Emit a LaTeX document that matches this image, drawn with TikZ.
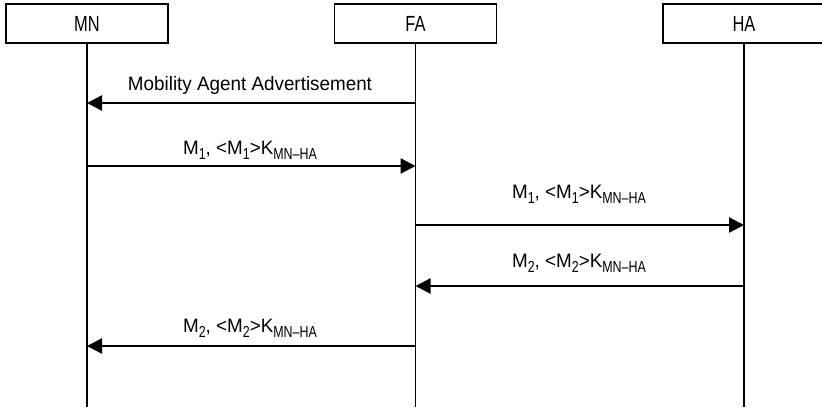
\documentclass[tikz,border=0pt]{standalone}
\usepackage{fontspec}
\setmainfont{Liberation Sans}[FakeStretch=0.97]
\newfontfamily\condfont{Liberation Sans}[FakeStretch=0.78,Ligatures=TeX]
\newfontfamily\boxfont{Liberation Sans}[FakeStretch=0.75]
\usetikzlibrary{arrows.meta}
% lowered, narrow subscript
\newcommand{\lowsub}[1]{\raisebox{-5bp}{\condfont\fontsize{16}{16}\selectfont #1}}
\begin{document}
\begin{tikzpicture}[x=1bp,y=-1bp,
  entity/.style={draw,line width=1.5bp,minimum width=162bp,minimum height=39bp,inner sep=0pt,
                 font=\boxfont\fontsize{22}{22}\selectfont},
  lifeline/.style={line width=1.6bp},
  msg/.style={line width=2.4bp,-{Triangle[length=15bp,width=15bp]}},
  lbl/.style={font=\fontsize{19.5}{19.5}\selectfont,inner sep=0pt,anchor=base}]
\useasboundingbox (0,0) rectangle (822,409);
\node[entity] (mn) at (87,23.5) {MN};
\node[entity] (fa) at (415.5,23.5) {FA};
\node[entity] (ha) at (744,23.5) {HA};
\coordinate (mnEnd) at (87,407);
\coordinate (faEnd) at (415.5,407);
\coordinate (haEnd) at (744,407);
\draw[lifeline] (mn.south) -- (mnEnd);
\draw[lifeline] (fa.south) -- (faEnd);
\draw[lifeline] (ha.south) -- (haEnd);
% message end points on the lifelines
\coordinate (fa1) at (415.5,103); \coordinate (mn1) at (87,103);
\coordinate (mn2) at (87,166);    \coordinate (fa2) at (415.5,166);
\coordinate (fa3) at (415.5,225); \coordinate (ha3) at (744,225);
\coordinate (ha4) at (744,286);   \coordinate (fa4) at (415.5,286);
\coordinate (fa5) at (415.5,346); \coordinate (mn5) at (87,346);
\draw[msg] (fa1) -- (mn1);
\draw[msg] (mn2) -- (fa2);
\draw[msg] (fa3) -- (ha3);
\draw[msg] (ha4) -- (fa4);
\draw[msg] (fa5) -- (mn5);
% message labels
\node[lbl] (l1) at (250,90) {Mobility Agent Advertisement};
\node[lbl] (l2) at (250,154) {M\lowsub{1}, <M\lowsub{1}>K\lowsub{MN–HA}};
\node[lbl] (l3) at (579,198) {M\lowsub{1}, <M\lowsub{1}>K\lowsub{MN–HA}};
\node[lbl] (l4) at (579,267) {M\lowsub{2}, <M\lowsub{2}>K\lowsub{MN–HA}};
\node[lbl] (l5) at (250,332) {M\lowsub{2}, <M\lowsub{2}>K\lowsub{MN–HA}};
\end{tikzpicture}
\end{document}
